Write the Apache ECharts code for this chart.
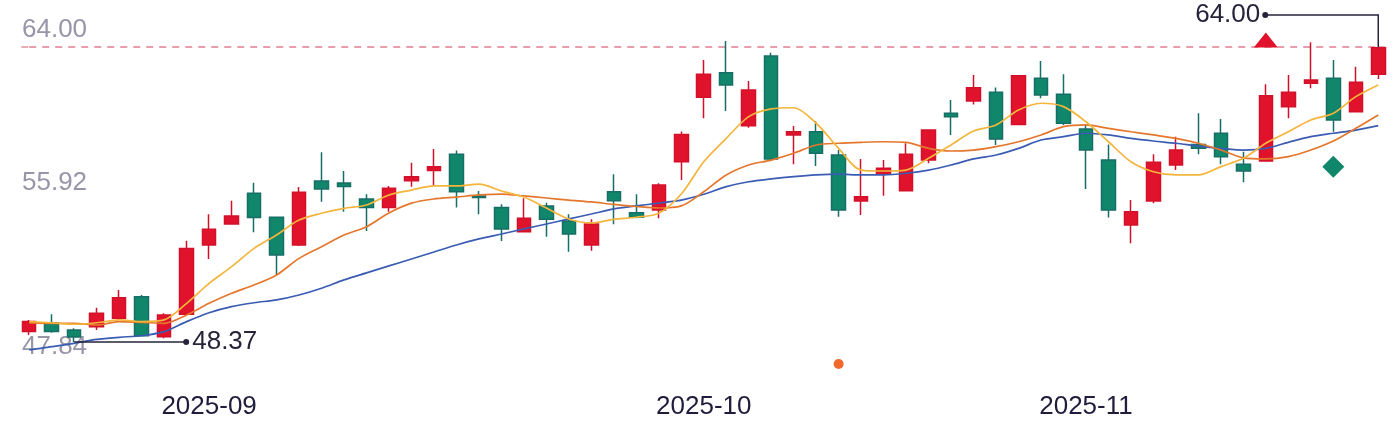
<!DOCTYPE html>
<html><head><meta charset="utf-8">
<script src="https://cdn.jsdelivr.net/npm/echarts@6/dist/echarts.min.js"></script>
<style>html,body{margin:0;padding:0;background:#fff}#c{width:1400px;height:428px}</style>
</head><body><div id="c"></div><script>
const dates = ['2025-08-20','2025-08-21','2025-08-22','2025-08-25','2025-08-26','2025-08-27','2025-08-28','2025-08-29',
'2025-09-01','2025-09-02','2025-09-03','2025-09-04','2025-09-05','2025-09-08','2025-09-09','2025-09-10','2025-09-11','2025-09-12',
'2025-09-15','2025-09-16','2025-09-17','2025-09-18','2025-09-19','2025-09-22','2025-09-23','2025-09-24','2025-09-25','2025-09-26',
'2025-09-29','2025-09-30',
'2025-10-09','2025-10-10','2025-10-13','2025-10-14','2025-10-15','2025-10-16','2025-10-17','2025-10-20','2025-10-21','2025-10-22',
'2025-10-23','2025-10-24','2025-10-27','2025-10-28','2025-10-29','2025-10-30','2025-10-31',
'2025-11-03','2025-11-04','2025-11-05','2025-11-06','2025-11-07','2025-11-10','2025-11-11','2025-11-12','2025-11-13','2025-11-14',
'2025-11-17','2025-11-18','2025-11-19','2025-11-20'];
const opens = [48.92,49.39,49.01,49.18,49.63,50.77,48.65,49.84,53.51,54.62,
56.25,54.98,53.51,56.90,56.79,55.95,55.49,56.92,57.45,58.32,
56.11,55.49,54.21,55.58,54.78,53.51,56.33,55.22,55.36,57.92,
61.34,62.64,59.83,63.52,59.34,59.51,58.28,55.84,57.26,56.39,
58.01,60.49,61.14,61.60,59.90,62.34,61.49,59.66,58.01,54.57,
55.84,57.75,58.84,59.43,57.79,57.96,60.84,62.08,62.34,60.57,62.55];
const closes = [49.45,48.92,48.63,49.89,50.72,48.70,49.80,53.33,54.34,55.05,
54.96,52.98,56.30,56.48,56.61,55.49,56.51,57.13,57.66,56.33,
56.03,54.36,54.92,54.87,54.09,54.62,55.86,54.98,56.69,59.37,
62.55,61.99,61.72,58.07,59.51,58.37,55.36,56.07,57.57,58.32,
59.60,60.31,61.84,59.13,62.48,61.46,59.96,58.54,55.36,55.27,
57.89,58.54,58.63,58.19,57.43,61.42,61.60,62.25,60.13,62.13,63.96];
const lows = [48.74,48.86,48.37,49.01,49.54,48.70,48.57,49.80,52.77,54.60,
54.18,51.92,53.46,55.80,55.27,54.25,55.27,56.60,56.69,55.49,
55.14,53.72,54.20,53.95,53.15,53.21,54.61,54.92,54.92,56.95,
60.22,60.61,59.72,57.96,57.79,57.70,55.01,55.10,56.12,56.38,
57.84,59.34,60.96,58.81,59.90,61.28,59.87,56.48,54.96,53.60,
55.72,57.48,58.32,57.79,56.83,57.96,60.22,61.81,59.51,60.57,62.30];
const highs = [49.54,49.84,49.10,50.19,51.13,50.86,49.89,53.74,55.14,55.86,
56.81,55.00,56.58,58.42,57.43,56.20,56.64,57.87,58.60,58.51,
56.37,55.67,55.98,55.75,55.14,54.87,57.26,56.20,56.78,59.52,
63.31,64.32,62.20,63.70,59.81,60.08,58.54,58.07,58.01,58.90,
59.64,61.19,62.52,61.86,62.48,63.26,62.55,59.87,58.84,55.89,
58.32,59.25,60.49,60.19,58.45,62.02,62.52,64.25,63.31,62.96,64.00];
const ma5 = [49.45,49.39,49.31,49.39,49.54,49.45,49.54,50.42,51.48,52.36,
53.33,54.04,54.83,55.19,55.45,55.63,56.16,56.42,56.64,56.64,
56.73,56.37,56.05,55.47,54.89,54.68,54.87,54.98,55.19,56.21,
57.92,59.16,60.31,60.72,60.78,59.96,58.63,57.48,57.43,57.48,
58.10,58.81,59.55,59.87,60.66,61.02,60.84,60.04,58.98,57.92,
57.39,57.22,57.22,57.66,58.10,58.90,59.51,60.13,60.49,61.37,61.99];
const ma10 = [49.38,49.36,49.36,49.27,49.45,49.41,49.36,49.80,50.42,50.95,
51.39,51.92,52.80,53.42,54.04,54.48,55.21,55.73,55.95,56.05,
56.16,56.21,56.11,56.00,55.89,55.79,55.66,55.55,55.47,55.58,
56.33,57.22,57.75,58.01,58.37,58.81,58.90,58.95,58.98,58.95,
58.63,58.49,58.54,58.72,58.98,59.34,59.78,59.87,59.69,59.51,
59.34,59.16,58.90,58.54,58.13,58.07,58.19,58.54,59.02,59.69,60.40];
const ma20 = [47.95,48.12,48.30,48.51,48.62,48.70,48.92,49.45,49.92,50.24,
50.45,50.60,50.86,51.22,51.66,52.03,52.40,52.77,53.14,53.51,
53.83,54.09,54.36,54.62,54.89,55.15,55.42,55.58,55.73,55.89,
56.20,56.60,56.86,57.01,57.13,57.22,57.26,57.22,57.22,57.31,
57.48,57.75,58.07,58.28,58.63,59.07,59.25,59.43,59.34,59.16,
59.02,58.90,58.75,58.63,58.54,58.63,58.95,59.25,59.43,59.60,59.83];
const yTickValues = [47.84, 55.92, 64.00];
const yTickLabels = ['47.84', '55.92', '64.00'];
const refLineValue = 64.00;
const buyMarks = [[55, 64.37]];
const sellMarks = [[58, 57.66]];
const dotMarks = [[36, 47.20]];
const highMark = { index: 60, value: 64.00, label: '64.00' };
const lowMark = { index: 2, value: 48.37, label: '48.37' };

const kdata = opens.map((o, i) => [o, closes[i], lows[i], highs[i]]);
const FONT = "'Liberation Sans', Arial, sans-serif";
const chart = echarts.init(document.getElementById('c'), null, { renderer: 'canvas' });

const monthStart = dates.map((d, i) => i === 0 ? false : d.slice(0, 7) !== dates[i - 1].slice(0, 7));

chart.setOption({
  animation: false,
  backgroundColor: '#ffffff',
  grid: { left: 18, right: 10.5, top: 47, bottom: 76, containLabel: false, outerBoundsMode: 'none' },
  xAxis: {
    type: 'category', data: dates, boundaryGap: true,
    axisLine: { show: false }, axisTick: { show: false }, splitLine: { show: false },
    axisLabel: {
      interval: (idx) => monthStart[idx],
      formatter: (v) => v.slice(0, 7),
      fontSize: 26, color: '#1f1c3c', fontFamily: FONT, margin: 42
    }
  },
  yAxis: {
    type: 'value', min: yTickValues[0], max: yTickValues[2], scale: true,
    axisLine: { show: false }, axisTick: { show: false }, splitLine: { show: false },
    axisLabel: {
      inside: true, margin: 4, customValues: yTickValues, showMinLabel: true, showMaxLabel: true,
      verticalAlign: 'bottom',
      formatter: (v) => {
        const i = yTickValues.findIndex(t => Math.abs(t - v) < 1e-6);
        const txt = i >= 0 ? yTickLabels[i] : v.toFixed(2);
        return i === 0 ? '{lo|' + txt + '}' : '{hi|' + txt + '}';
      },
      rich: {
        lo: { fontSize: 26, color: '#9795a8', fontFamily: FONT, lineHeight: 10 },
        hi: { fontSize: 26, color: '#9795a8', fontFamily: FONT, lineHeight: 34 }
      }
    }
  },
  series: [
    {
      type: 'candlestick', data: kdata, barWidth: 14, clip: false,
      itemStyle: { color: '#e1122c', color0: '#10866b', borderColor: '#d3102a', borderColor0: '#176e66', borderWidth: 1.5 }
    },
    {
      type: 'line', data: dates.map(() => refLineValue), showSymbol: false, silent: true, clip: false,
      lineStyle: { color: '#e07d90', type: [7, 6], width: 1.3 }, z: 1
    },
    { type: 'line', data: ma20, smooth: 0.3, showSymbol: false, clip: false, lineStyle: { color: '#3b5cb3', width: 1.7 }, z: 3 },
    { type: 'line', data: ma10, smooth: 0.3, showSymbol: false, clip: false, lineStyle: { color: '#e5772c', width: 1.7 }, z: 3 },
    { type: 'line', data: ma5, smooth: 0.3, showSymbol: false, clip: false, lineStyle: { color: '#f3b53c', width: 1.7 }, z: 3 },
    { type: 'scatter', data: buyMarks, symbol: 'triangle', symbolSize: [24, 15], clip: false, itemStyle: { color: '#e1122c', opacity: 1 }, z: 4 },
    { type: 'scatter', data: sellMarks, symbol: 'diamond', symbolSize: [22, 22], clip: false, itemStyle: { color: '#10866b', opacity: 1 }, z: 4 },
    { type: 'scatter', data: dotMarks, symbol: 'circle', symbolSize: 10, clip: false, itemStyle: { color: '#f2692c', opacity: 1 }, z: 4 }
  ]
});

const pL = chart.convertToPixel({ xAxisIndex: 0, yAxisIndex: 0 }, [lowMark.index, lowMark.value]);
const pH = chart.convertToPixel({ xAxisIndex: 0, yAxisIndex: 0 }, [highMark.index, highMark.value]);
const pLeft = chart.convertToPixel({ xAxisIndex: 0, yAxisIndex: 0 }, [0, refLineValue]);
const pRight = chart.convertToPixel({ xAxisIndex: 0, yAxisIndex: 0 }, [dates.length - 1, refLineValue]);
const ink = '#26243a';
chart.setOption({
  graphic: [
    { type: 'line', shape: { x1: pLeft[0] - 8, y1: pLeft[1], x2: pLeft[0], y2: pLeft[1] }, style: { stroke: '#e07d90', lineWidth: 1.3, lineDash: [7, 6] }, z: 1 },
    { type: 'line', shape: { x1: pRight[0], y1: pRight[1], x2: pRight[0] + 10, y2: pRight[1] }, style: { stroke: '#e07d90', lineWidth: 1.3, lineDash: [7, 6] }, z: 1 },
    { type: 'polyline', shape: { points: [[pL[0], pL[1]], [pL[0] + 112, pL[1]]] }, style: { stroke: ink, lineWidth: 1.5, fill: null }, z: 10 },
    { type: 'circle', shape: { cx: pL[0] + 112, cy: pL[1], r: 3 }, style: { fill: ink }, z: 10 },
    { type: 'text', x: pL[0] + 118, y: pL[1], style: { text: lowMark.label, fontSize: 26, fontFamily: FONT, fill: ink, verticalAlign: 'middle', align: 'left' }, z: 10 },
    { type: 'polyline', shape: { points: [[pH[0] - 113, pH[1] - 32], [pH[0], pH[1] - 32], [pH[0], pH[1]]] }, style: { stroke: ink, lineWidth: 1.5, fill: null }, z: 10 },
    { type: 'circle', shape: { cx: pH[0] - 113, cy: pH[1] - 32, r: 3 }, style: { fill: ink }, z: 10 },
    { type: 'text', x: pH[0] - 118, y: pH[1] - 32, style: { text: highMark.label, fontSize: 26, fontFamily: FONT, fill: ink, verticalAlign: 'middle', align: 'right' }, z: 10 }
  ]
});
</script></body></html>
